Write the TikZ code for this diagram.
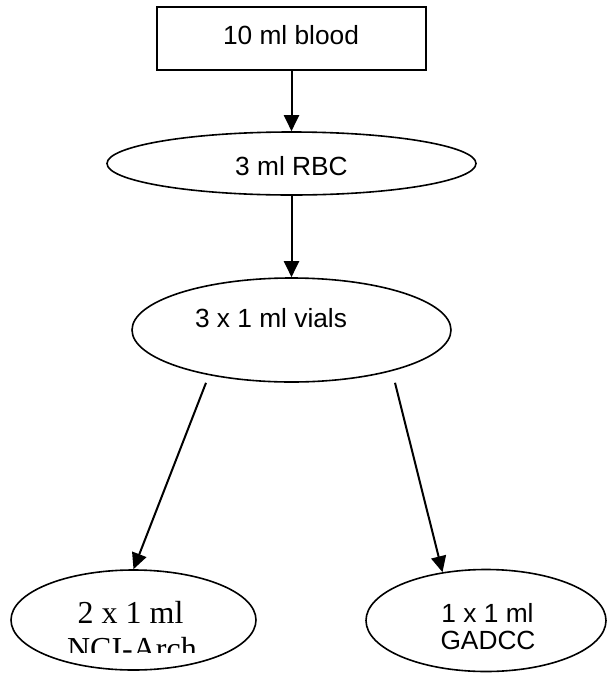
\documentclass[tikz,border=0pt]{standalone}
\usepackage{fontspec}
\setmainfont{Liberation Sans}
\newfontfamily\timesfont{Liberation Serif}
\usepackage{tikz}
\usetikzlibrary{shapes.geometric, arrows.meta, positioning}
\tikzstyle{arrow} = [line width=2pt,-{Triangle[length=16pt,width=15pt]}]
\tikzstyle{box} = [draw, line width=1.6pt, rectangle, inner sep=0pt]
\tikzstyle{oval} = [draw, line width=1.6pt, ellipse, inner sep=0pt]
\tikzstyle{lbl} = [anchor=base, inner sep=0pt, font=\fontsize{26.3}{27}\selectfont]
\tikzstyle{serif} = [anchor=base, inner sep=0pt, font=\timesfont\fontsize{32}{36}\selectfont]

\begin{document}
\begin{tikzpicture}[x=1pt, y=-1pt]
    \useasboundingbox (0,0) rectangle (607,673);

    % Blood sample
    \node[box, minimum width=269pt, minimum height=63pt] (blood) at (291.5, 38.5) {};
    \node[lbl] (blood_label) at (291, 44) {10 ml blood};

    % Red blood cells
    \node[oval, minimum width=369pt, minimum height=63pt] (rbc) at (291.5, 163.5) {};
    \node[lbl] (rbc_label) at (291.5, 175) {3 ml RBC};

    % Vials
    \node[oval, minimum width=319pt, minimum height=104pt] (vials) at (291.5, 330) {};
    \node[lbl] (vials_label) at (271, 327) {3 x 1 ml vials};
    \coordinate (vials_l) at ([xshift=-85.5pt]vials.south);
    \coordinate (vials_r) at ([xshift=103.5pt]vials.south);

    % NCI-Arch
    \node[oval, minimum width=245pt, minimum height=100pt] (nci) at (133.5, 620) {};
    \node[serif] (nci_top) at (130.5, 623) {2 x 1 ml};
    \begin{scope}
        \clip (0, 600) rectangle (300, 652);
        \node[serif] (nci_bottom) at (132, 659) {NCI-Arch};
    \end{scope}

    % GADCC
    \node[oval, minimum width=240pt, minimum height=102pt] (gadcc) at (486, 620.5) {};
    \node[lbl] (gadcc_top) at (487.5, 622) {1 x 1 ml};
    \node[lbl] (gadcc_bottom) at (488, 649) {GADCC};

    % Arrows
    \draw[arrow] (blood.south) -- (rbc.north);
    \draw[arrow] (rbc.south) -- (vials.north);
    \draw[arrow] (vials_l) -- (nci.north);
    \draw[arrow] (vials_r) -- (gadcc.132);
\end{tikzpicture}
\end{document}
